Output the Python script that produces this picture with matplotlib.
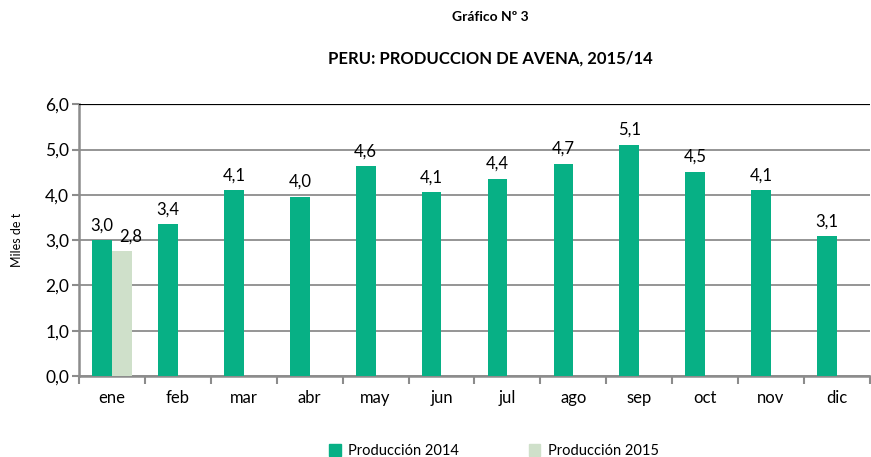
import matplotlib.pyplot as plt
import numpy as np
from matplotlib.patches import Patch

plt.rcParams['font.family'] = ['Lato', 'DejaVu Sans']

months = ["ene", "feb", "mar", "abr", "may", "jun", "jul", "ago", "sep", "oct", "nov", "dic"]
prod2014 = [3.0, 3.35, 4.1, 3.96, 4.63, 4.06, 4.36, 4.69, 5.11, 4.51, 4.1, 3.09]
prod2015 = [2.76]

GREEN = "#07B085"
LIGHT = "#CFE0CA"
GRID = "#8C8C8C"

def fmt(v):
   return ("%.1f" % v).replace(".", ",")

def main():
   fig = plt.figure(figsize=(8.71, 4.57), dpi=100)
   ax = fig.add_axes([0.0907, 0.177, 0.908, 0.595])
   x = np.arange(len(months))
   w = 0.3
   ax.bar(x - w/2, prod2014, w, color=GREEN, zorder=3)
   ax.bar(x[:len(prod2015)] + w/2, prod2015, w, color=LIGHT, zorder=3)
   for i, v in enumerate(prod2014):
      ax.text(x[i] - w/2, v + 0.15, fmt(v), ha="center", va="bottom", fontsize=12)
   for i, v in enumerate(prod2015):
      ax.text(x[i] + w/2 + 0.13, v + 0.15, fmt(v), ha="center", va="bottom", fontsize=12)

   ax.set_xlim(-0.5, len(months) - 0.5)
   ax.set_ylim(0, 6)
   ax.set_yticks(np.arange(0, 6.1, 1))
   ax.set_yticklabels([fmt(t) for t in np.arange(0, 6.1, 1)], fontsize=12.5)
   ax.yaxis.grid(True, color=GRID, linewidth=1.3, zorder=0)
   ax.axhline(6, color="black", linewidth=1.6, zorder=4)
   ax.set_xticks(x)
   ax.set_xticklabels(months, fontsize=12)
   ax.tick_params(axis="x", length=0, pad=10)
   ax.set_xticks(np.arange(-0.5, len(months), 1), minor=True)
   ax.tick_params(axis="x", which="minor", length=6, color=GRID, width=1.5)
   ax.tick_params(axis="y", length=5, color=GRID, width=1.5, pad=2)
   for s in ["top", "right"]:
      ax.spines[s].set_visible(False)
   for s in ["left", "bottom"]:
      ax.spines[s].set_color(GRID)
      ax.spines[s].set_linewidth(1.8)
   ax.set_ylabel("Miles de t", fontsize=9, labelpad=16)

   fig.text(0.563, 0.962, "Gráfico Nº 3", ha="center", va="center", fontsize=10, fontweight="bold")
   fig.text(0.563, 0.873, "PERU: PRODUCCION DE AVENA, 2015/14", ha="center", va="center", fontsize=12, fontweight="bold")

   handles = [Patch(color=GREEN, label="Producción 2014"), Patch(color=LIGHT, label="Producción 2015")]
   fig.legend(handles=handles, loc="center", bbox_to_anchor=(0.567, 0.013), ncol=2, frameon=False,
              fontsize=10.5, handlelength=0.8, handleheight=0.8, handletextpad=0.5, columnspacing=4.8)
   fig.savefig("out.png", dpi=100)

main()
